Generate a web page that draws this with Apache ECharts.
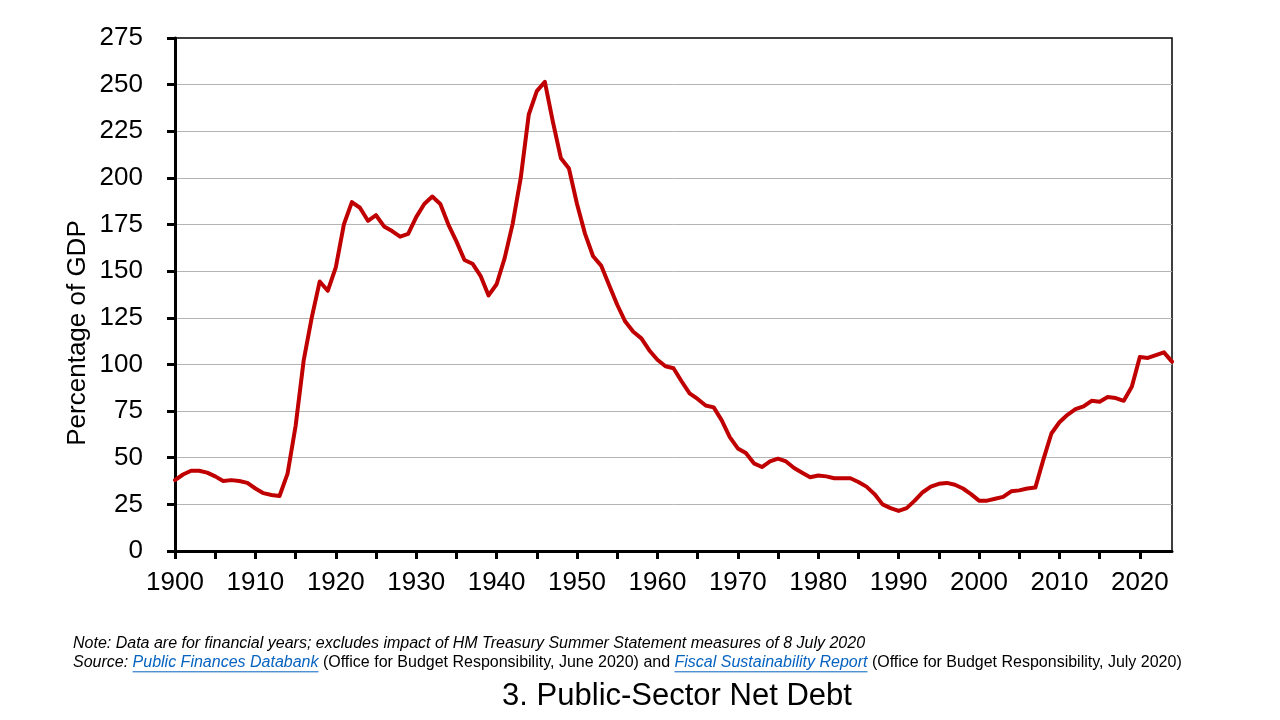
<!DOCTYPE html>
<html>
<head>
<meta charset="utf-8">
<title>Public-Sector Net Debt</title>
<script src="https://cdn.jsdelivr.net/npm/echarts@6/dist/echarts.min.js"></script>
<style>
  html, body { margin: 0; padding: 0; background: #fff; }
  #chart { width: 1280px; height: 720px; }
</style>
</head>
<body>
<div id="chart"></div>
<script>
// financial years, public-sector net debt as % of GDP
const years = [
    1900, 1901, 1902, 1903, 1904, 1905, 1906, 1907, 1908, 1909,
    1910, 1911, 1912, 1913, 1914, 1915, 1916, 1917, 1918, 1919,
    1920, 1921, 1922, 1923, 1924, 1925, 1926, 1927, 1928, 1929,
    1930, 1931, 1932, 1933, 1934, 1935, 1936, 1937, 1938, 1939,
    1940, 1941, 1942, 1943, 1944, 1945, 1946, 1947, 1948, 1949,
    1950, 1951, 1952, 1953, 1954, 1955, 1956, 1957, 1958, 1959,
    1960, 1961, 1962, 1963, 1964, 1965, 1966, 1967, 1968, 1969,
    1970, 1971, 1972, 1973, 1974, 1975, 1976, 1977, 1978, 1979,
    1980, 1981, 1982, 1983, 1984, 1985, 1986, 1987, 1988, 1989,
    1990, 1991, 1992, 1993, 1994, 1995, 1996, 1997, 1998, 1999,
    2000, 2001, 2002, 2003, 2004, 2005, 2006, 2007, 2008, 2009,
    2010, 2011, 2012, 2013, 2014, 2015, 2016, 2017, 2018, 2019,
    2020, 2021, 2022, 2023, 2024
];
const debtPctGdp = [
    38, 41, 43, 43, 42, 40, 37.5, 38, 37.5, 36.5,
    33.5, 31, 30, 29.5, 41.5, 67, 102, 125, 144.5, 139.5,
    152, 175, 187, 184, 177, 180, 174, 171.5, 168.5, 170,
    179, 186, 190, 186, 175, 166, 156, 154, 147.5, 137,
    143, 157, 175.5, 200, 234, 246.5, 251.5, 230, 210.5, 205,
    186, 170, 158, 153, 142.5, 132, 123, 117.5, 114, 107.5,
    102.5, 99, 98, 91, 84.5, 81.5, 78, 77, 70, 61,
    55, 52.5, 47, 45, 48, 49.5, 48, 44.5, 42, 39.5,
    40.5, 40, 39, 39, 39, 37, 34.5, 30.5, 25, 23,
    21.5, 23, 27, 31.5, 34.5, 36, 36.5, 35.5, 33.5, 30.5,
    27, 27, 28, 29, 32, 32.5, 33.5, 34, 49, 63,
    69, 73, 76, 77.5, 80.5, 80, 82.5, 82, 80.5, 88,
    104, 103.5, 105, 106.5, 101.5
];
const xTickYears = [
    1900, 1905, 1910, 1915, 1920, 1925, 1930, 1935, 1940, 1945, 1950, 1955, 1960,
    1965, 1970, 1975, 1980, 1985, 1990, 1995, 2000, 2005, 2010, 2015, 2020
];
const xLabelYears = [1900, 1910, 1920, 1930, 1940, 1950, 1960, 1970, 1980, 1990, 2000, 2010, 2020];

const yAxisName = 'Percentage of GDP';
const noteText = 'Note: Data are for financial years; excludes impact of HM Treasury Summer Statement measures of 8 July 2020';
const sourceParts = [
    {text: 'Source: ', italic: true, link: false},
    {text: 'Public Finances Databank', italic: true, link: true},
    {text: ' (Office for Budget Responsibility, June 2020) and ', italic: false, link: false},
    {text: 'Fiscal Sustainability Report', italic: true, link: true},
    {text: ' (Office for Budget Responsibility, July 2020)', italic: false, link: false}
];
const chartTitle = '3. Public-Sector Net Debt';

const FONT = '"Liberation Sans", Arial, sans-serif';

// build the source line piece by piece so links can get an underline
function buildSourceLine(x0, y, size) {
    let ctx = document.createElement('canvas').getContext('2d');
    let out = [];
    let x = x0;
    for (let part of sourceParts) {
        ctx.font = (part.italic ? 'italic ' : '') + size + 'px ' + FONT;
        let w = ctx.measureText(part.text).width;
        out.push({
            type: 'text',
            x: x,
            y: y,
            style: {
                text: part.text,
                fontFamily: FONT,
                fontSize: size,
                fontStyle: part.italic ? 'italic' : 'normal',
                fill: part.link ? '#0563C1' : '#000',
                align: 'left',
                verticalAlign: 'middle'
            }
        });
        if (part.link) {
            out.push({
                type: 'line',
                shape: {x1: x, y1: y + size * 0.55, x2: x + w, y2: y + size * 0.55},
                style: {stroke: '#0563C1', lineWidth: 1}
            });
        }
        x += w;
    }
    return out;
}

let myChart = echarts.init(document.getElementById('chart'));
let option = {
    backgroundColor: '#fff',
    animation: false,
    grid: {
        left: 175,
        right: 108,
        top: 38,
        bottom: 169,
        show: true,
        borderColor: '#000',
        borderWidth: 1.5
    },
    xAxis: {
        type: 'value',
        min: 1900,
        max: 2024,
        interval: 5,
        axisLine: {show: true, lineStyle: {color: '#000', width: 3}},
        axisTick: {show: true, length: 8, customValues: xTickYears, lineStyle: {color: '#000', width: 3}},
        axisLabel: {
            customValues: xLabelYears,
            formatter: function (v) {
                return String(v);
            },
            margin: 19,
            color: '#000',
            fontSize: 26,
            fontFamily: FONT
        },
        splitLine: {show: false}
    },
    yAxis: {
        type: 'value',
        min: 0,
        max: 275,
        interval: 25,
        axisLine: {show: true, lineStyle: {color: '#000', width: 3}},
        axisTick: {show: true, length: 8, lineStyle: {color: '#000', width: 3}},
        axisLabel: {margin: 32, color: '#000', fontSize: 26, fontFamily: FONT},
        splitLine: {show: true, showMinLine: false, showMaxLine: false, lineStyle: {color: '#b4b4b4', width: 1}}
    },
    series: [
        {
            name: 'Public-sector net debt',
            type: 'line',
            data: years.map(function (y, i) {
                return [y, debtPctGdp[i]];
            }),
            showSymbol: false,
            smooth: false,
            lineStyle: {color: '#C00000', width: 4, join: 'round', cap: 'round'},
            z: 3
        }
    ],
    graphic: [
        {
            type: 'text',
            x: 78,
            y: 333,
            rotation: Math.PI / 2,
            style: {
                text: yAxisName,
                fontFamily: FONT,
                fontSize: 26,
                fill: '#000',
                align: 'center',
                verticalAlign: 'middle'
            }
        },
        {
            type: 'text',
            x: 73,
            y: 644,
            style: {
                text: noteText,
                fontFamily: FONT,
                fontSize: 16,
                fontStyle: 'italic',
                fill: '#000',
                align: 'left',
                verticalAlign: 'middle'
            }
        }
    ].concat(buildSourceLine(73, 663, 16)).concat([
        {
            type: 'text',
            x: 677,
            y: 696,
            style: {
                text: chartTitle,
                fontFamily: FONT,
                fontSize: 31,
                fill: '#000',
                align: 'center',
                verticalAlign: 'middle'
            }
        }
    ])
};
myChart.setOption(option);
</script>
</body>
</html>
